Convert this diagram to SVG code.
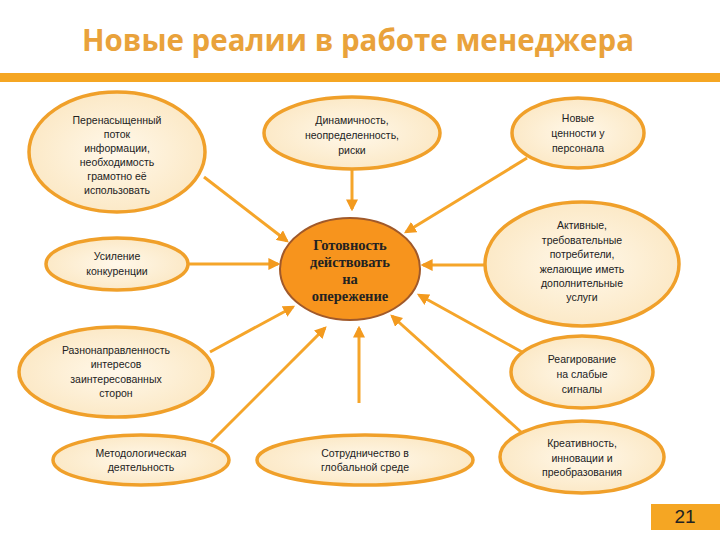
<svg xmlns="http://www.w3.org/2000/svg" width="720" height="540" viewBox="0 0 720 540">
<defs>
<radialGradient id="g" cx="50%" cy="50%" r="60%"><stop offset="0" stop-color="#FFF8EA"/><stop offset="1" stop-color="#FBE6C0"/></radialGradient>
<marker id="ah" viewBox="0 0 10 10" refX="8" refY="5" markerWidth="4" markerHeight="4" orient="auto"><path d="M0,0 L10,5 L0,10 z" fill="#F39A1E"/></marker>
<style>
.n{fill:url(#g);stroke:#F0A02A;stroke-width:3.5}
.t{font-family:"Liberation Sans",Arial,sans-serif;font-size:10.5px;fill:#222;text-anchor:middle}
.c line{stroke:#F5A52A;stroke-width:3;marker-end:url(#ah)}
</style>
</defs>
<rect width="720" height="540" fill="#fff"/>
<text x="358" y="51" font-family="Open Sans,Liberation Sans,sans-serif" font-weight="bold" font-size="29.5" fill="#E9A23B" text-anchor="middle">Новые реалии в работе менеджера</text>
<rect x="0" y="73" width="720" height="9" fill="#F5A623"/>
<g class="c" id="connectors">
<line x1="204" y1="177" x2="287" y2="241"/>
<line x1="352" y1="170" x2="352" y2="209"/>
<line x1="527" y1="158" x2="406" y2="232"/>
<line x1="188" y1="264" x2="278" y2="264"/>
<line x1="486" y1="265" x2="423" y2="265"/>
<line x1="210" y1="352" x2="293" y2="307"/>
<line x1="522" y1="352" x2="419" y2="295"/>
<line x1="211" y1="442" x2="325" y2="328"/>
<line x1="359" y1="403" x2="359" y2="328"/>
<line x1="521" y1="432" x2="392" y2="316"/>
</g>
<g id="nA"><ellipse class="n" cx="117" cy="152" rx="88" ry="60"/>
<text class="t"><tspan x="117" y="124">Перенасыщенный</tspan><tspan x="117" y="138">поток</tspan><tspan x="117" y="152">информации,</tspan><tspan x="117" y="166">необходимость</tspan><tspan x="117" y="180">грамотно её</tspan><tspan x="117" y="194">использовать</tspan></text></g>
<g id="nB"><ellipse class="n" cx="352" cy="133" rx="88" ry="36"/>
<text class="t"><tspan x="352" y="124">Динамичность,</tspan><tspan x="352" y="139">неопределенность,</tspan><tspan x="352" y="154">риски</tspan></text></g>
<g id="nC"><ellipse class="n" cx="578" cy="133" rx="66" ry="35"/>
<text class="t"><tspan x="578" y="122">Новые</tspan><tspan x="578" y="137">ценности у</tspan><tspan x="578" y="152">персонала</tspan></text></g>
<g id="center"><ellipse cx="350" cy="269" rx="70" ry="51" fill="#F7941D" stroke="#A0592A" stroke-width="2"/>
<text font-family="Liberation Serif,serif" font-weight="bold" font-size="14.5" fill="#222" text-anchor="middle"><tspan x="350" y="250">Готовность</tspan><tspan x="350" y="267">действовать</tspan><tspan x="350" y="284">на</tspan><tspan x="350" y="301">опережение</tspan></text></g>
<g id="nD"><ellipse class="n" cx="117" cy="264" rx="71" ry="26"/>
<text class="t"><tspan x="117" y="260">Усиление</tspan><tspan x="117" y="275">конкуренции</tspan></text></g>
<g id="nE"><ellipse class="n" cx="582" cy="264" rx="97" ry="62"/>
<text class="t"><tspan x="582" y="229">Активные,</tspan><tspan x="582" y="244">требовательные</tspan><tspan x="582" y="258">потребители,</tspan><tspan x="582" y="273">желающие иметь</tspan><tspan x="582" y="287">дополнительные</tspan><tspan x="582" y="301">услуги</tspan></text></g>
<g id="nF"><ellipse class="n" cx="116" cy="372" rx="97" ry="45"/>
<text class="t"><tspan x="116" y="354">Разнонаправленность</tspan><tspan x="116" y="368">интересов</tspan><tspan x="116" y="383">заинтересованных</tspan><tspan x="116" y="397">сторон</tspan></text></g>
<g id="nG"><ellipse class="n" cx="582" cy="372" rx="71" ry="36"/>
<text class="t"><tspan x="582" y="363">Реагирование</tspan><tspan x="582" y="378">на слабые</tspan><tspan x="582" y="393">сигналы</tspan></text></g>
<g id="nH"><ellipse class="n" cx="141" cy="460" rx="88" ry="25"/>
<text class="t"><tspan x="141" y="457">Методологическая</tspan><tspan x="141" y="471">деятельность</tspan></text></g>
<g id="nI"><ellipse class="n" cx="365" cy="460" rx="108" ry="25"/>
<text class="t"><tspan x="365" y="457">Сотрудничество в</tspan><tspan x="365" y="471">глобальной среде</tspan></text></g>
<g id="nJ"><ellipse class="n" cx="582" cy="457" rx="82" ry="36"/>
<text class="t"><tspan x="582" y="447">Креативность,</tspan><tspan x="582" y="462">инновации и</tspan><tspan x="582" y="476">преобразования</tspan></text></g>
<rect x="651" y="504" width="69" height="26" fill="#F5A623"/>
<text x="685" y="523" font-family="Liberation Sans,sans-serif" font-size="19" fill="#222" text-anchor="middle">21</text>
</svg>
